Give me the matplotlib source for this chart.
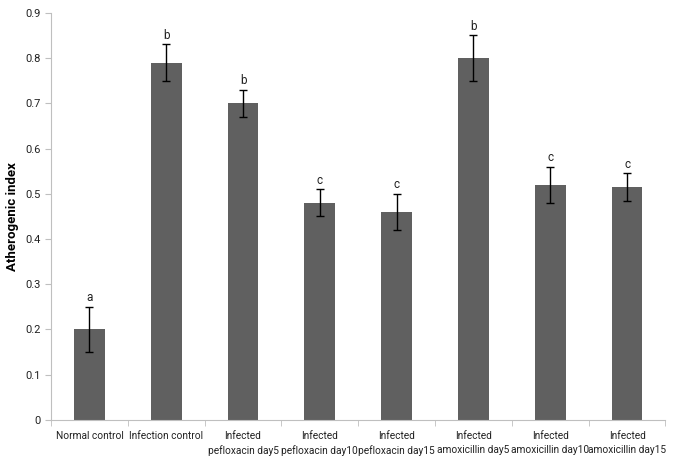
import matplotlib.pyplot as plt
import numpy as np

categories = ['Normal control', 'Infection control', 'Infected\npefloxacin day5',
              'Infected\npefloxacin day10', 'Infected\npefloxacin day15',
              'Infected\namoxicillin day5', 'Infected\namoxicillin day10',
              'Infected\namoxicillin day15']
values = [0.20, 0.79, 0.70, 0.48, 0.46, 0.80, 0.52, 0.515]
errors = [0.05, 0.04, 0.03, 0.03, 0.04, 0.05, 0.04, 0.03]
letters = ['a', 'b', 'b', 'c', 'c', 'b', 'c', 'c']

plt.rcParams['font.family'] = ['Roboto', 'DejaVu Sans']

fig = plt.figure(figsize=(6.85, 4.74), dpi=100)
ax = fig.add_axes([0.0745, 0.114, 0.897, 0.859])

x = np.arange(len(categories))
ax.bar(x, values, width=0.4, color='#606060', zorder=2)
ax.errorbar(x, values, yerr=errors, fmt='none', ecolor='black',
            elinewidth=1, capsize=3, capthick=1, zorder=3)
for xi, v, e, l in zip(x, values, errors, letters):
    ax.text(xi, v + e + 0.006, l, ha='center', va='bottom', fontsize=8.5, color='#222222')

ax.set_xlim(-0.5, len(categories) - 0.5)
ax.set_ylim(0, 0.9)
ax.set_yticks(np.arange(0, 0.91, 0.1))
ax.set_yticklabels(['0'] + ['%.1f' % t for t in np.arange(0.1, 0.91, 0.1)])
ax.set_xticks(x)
ax.set_xticklabels(categories, fontsize=7.3, color='#222222', linespacing=1.5)
ax.set_xticks(np.arange(-0.5, len(categories), 1), minor=True)
ax.tick_params(axis='x', which='major', length=0, pad=8)
ax.tick_params(axis='x', which='minor', length=4, color='#bfbfbf')
ax.tick_params(axis='y', length=4, color='#bfbfbf', labelsize=8, labelcolor='#222222')

ax.set_ylabel('Atherogenic index', fontsize=9.5, fontweight='bold')
ax.yaxis.set_label_coords(-0.052, 0.5)
for s in ['top', 'right']:
    ax.spines[s].set_visible(False)
for s in ['left', 'bottom']:
    ax.spines[s].set_color('#bfbfbf')

fig.savefig('out.png', dpi=100)
